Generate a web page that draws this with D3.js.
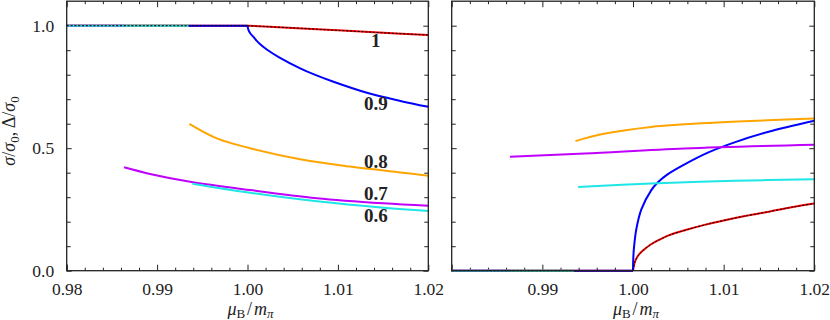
<!DOCTYPE html>
<html>
<head>
<meta charset="utf-8">
<script src="https://cdn.jsdelivr.net/npm/d3@7"></script>
<style>
  body { margin: 0; background: #fff; }
  text { font-family: "Liberation Serif", "Times New Roman", serif; fill: #222; }
  .tick line { stroke: #222; stroke-width: 1; }
</style>
</head>
<body>
<div id="chart"></div>
<script>
//========================
// Data
//========================
// curve labels (pion mass ratio)
var curveNames = ["1", "0.9", "0.8", "0.7", "0.6"];
// mu_B/m_pi where the condensed branch starts
var onsets = [1.0, 1.0, 0.9935, 0.9865, 0.9935];

// sigma/sigma0 on the condensed branch, [mu_B/m_pi, value]
var sigma1  = [[1.0, 1.0], [1.005, 0.991], [1.01, 0.981], [1.015, 0.971], [1.02, 0.962]];
var sigma09 = [[1.0, 1.0], [1.0001, 0.983], [1.0003, 0.969], [1.00066, 0.954], [1.001, 0.939],
               [1.0015, 0.921], [1.00221, 0.901], [1.0035, 0.871], [1.00583, 0.826], [1.0075, 0.799],
               [1.00951, 0.771], [1.01321, 0.726], [1.0169, 0.693], [1.02, 0.669]];
var sigma08 = [[0.99357, 0.599], [0.9966, 0.54], [1.00029, 0.5], [1.00583, 0.455],
               [1.01136, 0.425], [1.0169, 0.401], [1.02, 0.388]];
var sigma07 = [[0.98634, 0.422], [0.98922, 0.395], [0.99365, 0.363], [1.00029, 0.329],
               [1.00768, 0.296], [1.01505, 0.275], [1.02, 0.265]];
var sigma06 = [[0.99391, 0.355], [1.00029, 0.318], [1.00768, 0.283], [1.01505, 0.257], [1.02, 0.244]];

// Delta/sigma0 on the condensed branch
var delta1  = [[1.0, 0.0], [1.0002, 0.035], [1.0005, 0.058], [1.001, 0.079], [1.002, 0.108],
               [1.003, 0.128], [1.004, 0.145], [1.006, 0.168], [1.008, 0.188], [1.01, 0.205],
               [1.0125, 0.224], [1.015, 0.241], [1.0175, 0.259], [1.02, 0.274]];
var delta09 = [[1.0, 0.0], [1.00003, 0.05], [1.00011, 0.095], [1.00037, 0.17], [1.00092, 0.25],
               [1.00202, 0.329], [1.00275, 0.361], [1.00385, 0.394], [1.00569, 0.434], [1.00826, 0.482],
               [1.0112, 0.524], [1.01486, 0.566], [1.02, 0.612]];
var delta08 = [[0.99365, 0.529], [0.99651, 0.557], [1.002, 0.587], [1.00936, 0.605], [1.02, 0.621]];
var delta07 = [[0.98642, 0.465], [0.99468, 0.478], [1.00569, 0.499], [1.02, 0.514]];
var delta06 = [[0.99394, 0.342], [1.002, 0.356], [1.0112, 0.367], [1.02, 0.373]];

// value of the normal (uncondensed) branch in each panel
var normalSigma = 1.0;
var normalDelta = 0.0;

// curve label anchors in the left panel [mu_B/m_pi, value]
var labelMu  = [1.0142, 1.0142, 1.0142, 1.0142, 1.0142];
var labelVal = [0.912, 0.655, 0.418, 0.288, 0.198];

// ticks
var xMajor = [0.98, 0.99, 1.00, 1.01, 1.02];
var xMinor = d3.range(0, 21).map(function(i) { return +(0.98 + i * 0.002).toFixed(3); });
var yMajor = [0.0, 0.5, 1.0];
var yMinor = d3.range(0, 11).map(function(i) { return +(i * 0.1).toFixed(1); });

var colors = ["#ff0000", "#0000ff", "#ffa500", "#bf00ff", "#1ee6e6"];

//========================
// Layout
//========================
var svgWidth = 830, svgHeight = 320;
var panelTop = 1.2, panelBottom = 270.7;
var panels = [
  { left: 66.7, right: 428.3, curves: [sigma1, sigma09, sigma08, sigma07, sigma06], normal: normalSigma, labels: true, xLabels: xMajor },
  { left: 451.7, right: 814.3, curves: [delta1, delta09, delta08, delta07, delta06], normal: normalDelta, labels: false, xLabels: xMajor.slice(1) }
];

var svg = d3.select("#chart")
  .append("svg")
  .attr("width", svgWidth)
  .attr("height", svgHeight);

var yScale = d3.scaleLinear().domain([0, 1.1]).range([panelBottom, panelTop]);

panels.forEach(function(p) {
  var xScale = d3.scaleLinear().domain([0.98, 1.02]).range([p.left, p.right]);
  var g = svg.append("g");

  // Step 1: ticks (inward) on all four sides
  // ==============================
  function addAxis(axis, transform, labelled) {
    var a = g.append("g").attr("transform", transform).call(axis);
    a.attr("font-family", null);
    a.select(".domain").remove();
    a.selectAll("text").style("font-size", "17.5px");
    if (!labelled) a.selectAll("text").remove();
    return a;
  }
  var xMinorOnly = xMinor.filter(function(v) { return xMajor.indexOf(v) < 0; });
  var yMinorOnly = yMinor.filter(function(v) { return yMajor.indexOf(v) < 0; });

  addAxis(d3.axisBottom(xScale).tickValues(p.xLabels).tickSize(-6).tickPadding(12).tickFormat(d3.format(".2f")),
          "translate(0," + panelBottom + ")", true);
  addAxis(d3.axisBottom(xScale).tickValues([0.98]).tickSize(-6), "translate(0," + panelBottom + ")", false);
  addAxis(d3.axisBottom(xScale).tickValues(xMinorOnly).tickSize(-3), "translate(0," + panelBottom + ")", false);
  addAxis(d3.axisTop(xScale).tickValues(xMajor).tickSize(-6), "translate(0," + panelTop + ")", false);
  addAxis(d3.axisTop(xScale).tickValues(xMinorOnly).tickSize(-3), "translate(0," + panelTop + ")", false);

  addAxis(d3.axisLeft(yScale).tickValues(yMajor).tickSize(-5).tickPadding(12.5).tickFormat(d3.format(".1f")),
          "translate(" + p.left + ",0)", p.labels);
  addAxis(d3.axisLeft(yScale).tickValues(yMinorOnly).tickSize(-4), "translate(" + p.left + ",0)", false);
  addAxis(d3.axisRight(yScale).tickValues(yMajor).tickSize(-5), "translate(" + p.right + ",0)", false);
  addAxis(d3.axisRight(yScale).tickValues(yMinorOnly).tickSize(-4), "translate(" + p.right + ",0)", false);

  // Step 2: curves
  // ==============================
  var line = d3.line()
    .x(function(d) { return xScale(d[0]); })
    .y(function(d) { return yScale(d[1]); })
    .curve(d3.curveCatmullRom.alpha(0.5));

  var curvesGroup = g.append("g").attr("fill", "none").attr("stroke-linecap", "butt");

  p.curves.forEach(function(c, ci) {
    // normal branch up to the onset
    curvesGroup.append("path")
      .attr("d", line([[0.98, p.normal], [onsets[ci], p.normal]]))
      .attr("stroke", colors[ci])
      .attr("stroke-width", 2);
    // condensed branch
    curvesGroup.append("path")
      .attr("d", line(c))
      .attr("stroke", colors[ci])
      .attr("stroke-width", 2);
  });

  // black dashed curve on top of the red one (both branches)
  [[[0.98, p.normal], [onsets[0], p.normal]], p.curves[0]].forEach(function(seg) {
    curvesGroup.append("path")
      .attr("d", line(seg))
      .attr("stroke", "#000")
      .attr("stroke-width", 1.0)
      .attr("stroke-dasharray", "2.2,1.6");
  });

  // Step 3: frame
  // ==============================
  g.append("rect")
    .attr("x", p.left)
    .attr("y", panelTop)
    .attr("width", p.right - p.left)
    .attr("height", panelBottom - panelTop)
    .attr("fill", "none")
    .attr("stroke", "#222")
    .attr("stroke-width", 1.3);

  // Step 4: curve labels
  // ==============================
  if (p.labels) {
    g.append("g").selectAll("text")
      .data(curveNames)
      .enter()
      .append("text")
      .attr("x", function(d, i) { return xScale(labelMu[i]); })
      .attr("y", function(d, i) { return yScale(labelVal[i]); })
      .attr("text-anchor", "middle")
      .style("font-size", "19px")
      .style("font-weight", "bold")
      .text(function(d) { return d; });
  }

  // Step 5: x-axis title
  // ==============================
  var xt = g.append("text")
    .attr("x", xScale(1.0) + 3)
    .attr("y", 315)
    .attr("text-anchor", "middle")
    .style("font-size", "18px");
  xt.append("tspan").style("font-style", "italic").text("μ");
  xt.append("tspan").attr("dy", 3).style("font-size", "13px").text("B");
  xt.append("tspan").attr("dy", -3).attr("dx", 2).text("/");
  xt.append("tspan").attr("dx", 2).style("font-style", "italic").text("m");
  xt.append("tspan").attr("dy", 3).style("font-size", "13px").style("font-style", "italic").text("π");
});

// Y-axis title
var yt = svg.append("text")
  .attr("transform", "translate(15,131) rotate(-90)")
  .attr("text-anchor", "middle")
  .style("font-size", "18px");
yt.append("tspan").style("font-style", "italic").text("σ");
yt.append("tspan").text("/");
yt.append("tspan").style("font-style", "italic").text("σ");
yt.append("tspan").attr("dy", 4).style("font-size", "13px").text("0");
yt.append("tspan").attr("dy", -4).text(", Δ/");
yt.append("tspan").style("font-style", "italic").text("σ");
yt.append("tspan").attr("dy", 4).style("font-size", "13px").text("0");
</script>
</body>
</html>
